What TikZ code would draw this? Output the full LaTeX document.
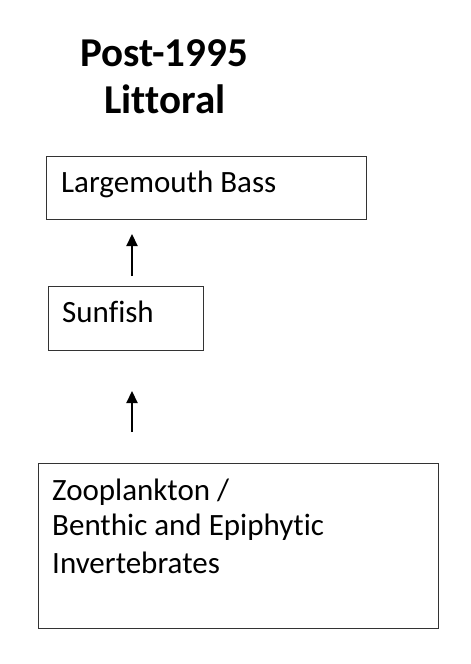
\documentclass[tikz,border=0pt]{standalone}
\usepackage{fontspec}
\setmainfont[Ligatures=NoCommon]{Carlito}
\usetikzlibrary{arrows.meta}
\begin{document}
\begin{tikzpicture}[x=1pt,y=-1pt,
  boxstyle/.style={draw=black!80, line width=1pt, inner sep=0pt},
  labelstyle/.style={anchor=base west, inner sep=0pt, font=\fontsize{31}{36}\selectfont},
  titlestyle/.style={anchor=base, inner sep=0pt, font=\bfseries\fontsize{41}{47}\selectfont},
  arrowstyle/.style={-{Triangle[length=12pt,width=11pt]}, line width=2.2pt}]
\useasboundingbox (0,0) rectangle (471,664);
\node[titlestyle] (title1) at (164,66) {Post-1995};
\node[titlestyle] (title2) at (165,113) {Littoral};
\draw[boxstyle] (46,156) rectangle (366,219);
\node[labelstyle] (lmb) at (61,192) {Largemouth Bass};
\draw[boxstyle] (48,286) rectangle (203,350);
\node[labelstyle] (sun) at (62,322) {Sunfish};
\draw[boxstyle] (38,463) rectangle (438,628);
\node[labelstyle] (zoo) at (52,500) {Zooplankton /};
\node[labelstyle] (ben) at (52,535) {Benthic and Epiphytic};
\node[labelstyle] (inv) at (52,573) {Invertebrates};
\coordinate (a1s) at (132,276);
\coordinate (a1e) at (132,234);
\coordinate (a2s) at (132,432);
\coordinate (a2e) at (132,391);
\draw[arrowstyle] (a1s) -- (a1e);
\draw[arrowstyle] (a2s) -- (a2e);
\end{tikzpicture}
\end{document}
